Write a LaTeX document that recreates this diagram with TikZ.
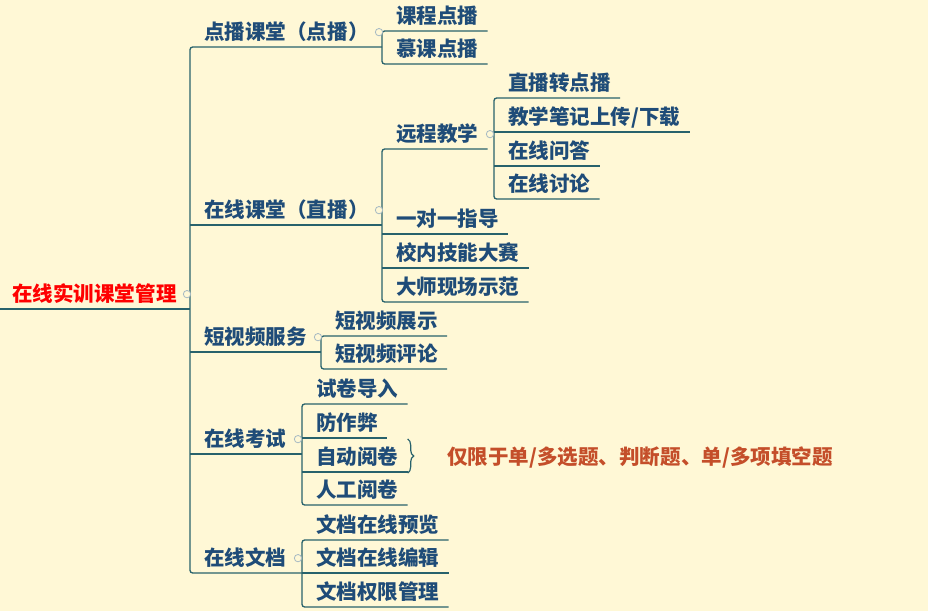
\documentclass[tikz,border=0pt]{standalone}
\usepackage{fontspec}
\newfontfamily\cjk{Noto Sans CJK SC}
\usetikzlibrary{positioning,calc}
\usetikzlibrary{decorations.pathreplacing}
\definecolor{paper}{RGB}{255,248,214}
\definecolor{topicblue}{RGB}{31,76,120}
\definecolor{branchteal}{RGB}{40,98,108}
\definecolor{foldgrey}{RGB}{165,185,195}
\definecolor{noteorange}{RGB}{196,78,42}
\tikzset{
        mapnode/.style={anchor=south west, inner xsep=6.75pt, inner ysep=5.7pt, text depth=0pt,
                font=\cjk\bfseries\fontsize{15.4}{18}\selectfont},
        % Root topic
        node_root/.style={mapnode, text=red},
        % Ordinary topics
        node_topic/.style={mapnode, text=topicblue},
        % Side note
        node_note/.style={mapnode, text=noteorange},
        % Branch lines
        line_branch/.style={draw=branchteal, line width=1pt, rounded corners=2},
        % Fold markers
        fold_mark/.style={circle, draw=foldgrey, fill=paper, line width=0.6pt, inner sep=0pt, minimum size=5.5pt}
}
\begin{document}
\begin{tikzpicture}[x=0.75pt, y=-0.75pt]
            \fill[paper] (0,0) rectangle (928,611);
            \useasboundingbox (0,0) rectangle (928,611);
            % junctions
            \coordinate (j0) at (190,0);
            \coordinate (j1) at (382,0);
            \coordinate (j2) at (494,0);
            \coordinate (j3) at (321,0);
            \coordinate (j4) at (302,0);
            \coordinate (left) at (0,309);

            \node[node_root] (root) at (3,309) {在线实训课堂管理};

            \node[node_topic] (vod)  at (195,47)  {点播课堂（点播）};
            \node[node_topic] (live) at (195,225) {在线课堂（直播）};
            \node[node_topic] (vid)  at (195,352) {短视频服务};
            \node[node_topic] (exam) at (195,454) {在线考试};
            \node[node_topic] (doc)  at (195,573) {在线文档};

            \node[node_topic] (vod1) at (387,31) {课程点播};
            \node[node_topic] (vod2) at (387,64) {慕课点播};

            \node[node_topic] (live1) at (387,149) {远程教学};
            \node[node_topic] (live2) at (387,234) {一对一指导};
            \node[node_topic] (live3) at (387,268) {校内技能大赛};
            \node[node_topic] (live4) at (387,302) {大师现场示范};

            \node[node_topic] (rem1) at (499,98)  {直播转点播};
            \node[node_topic] (rem2) at (499,132) {教学笔记上传/下载};
            \node[node_topic] (rem3) at (499,166) {在线问答};
            \node[node_topic] (rem4) at (499,199) {在线讨论};

            \node[node_topic] (vid1) at (326,336) {短视频展示};
            \node[node_topic] (vid2) at (326,369) {短视频评论};

            \node[node_topic] (exam1) at (307,404) {试卷导入};
            \node[node_topic] (exam2) at (307,438) {防作弊};
            \node[node_topic] (exam3) at (307,472) {自动阅卷};
            \node[node_topic] (exam4) at (307,505) {人工阅卷};

            \node[node_topic] (doc1) at (307,540) {文档在线预览};
            \node[node_topic] (doc2) at (307,573) {文档在线编辑};
            \node[node_topic] (doc3) at (307,607) {文档权限管理};

            \node[node_note] (note) at (438,472) {仅限于单/多选题、判断题、单/多项填空题};

            % root and trunk
            \draw[line_branch] (left) -- (root.south -| j0);
            \draw[line_branch] (vod.south -| j1) -- (vod.south -| j0) -- (doc.south -| j0) -- (doc.south -| j4);
            \draw[line_branch] (live.south -| j0) -- (live.south -| j1);
            \draw[line_branch] (vid.south -| j0) -- (vid.south -| j3);
            \draw[line_branch] (exam.south -| j0) -- (exam.south -| j4);

            % second level
            \draw[line_branch] (vod1.south east) -- (vod1.south -| j1) -- (vod2.south -| j1) -- (vod2.south east);
            \draw[line_branch] (live1.south east) -- (live1.south -| j1) -- (live4.south -| j1) -- (live4.south east);
            \foreach \n in {live2,live3}
                \draw[line_branch] (\n.south -| j1) -- (\n.south east);
            \draw[line_branch] (rem1.south east) -- (rem1.south -| j2) -- (rem4.south -| j2) -- (rem4.south east);
            \foreach \n in {rem2,rem3}
                \draw[line_branch] (\n.south -| j2) -- (\n.south east);
            \draw[line_branch] (vid1.south east) -- (vid1.south -| j3) -- (vid2.south -| j3) -- (vid2.south east);
            \draw[line_branch] (exam1.south east) -- (exam1.south -| j4) -- (exam4.south -| j4) -- (exam4.south east);
            \foreach \n in {exam2,exam3}
                \draw[line_branch] (\n.south -| j4) -- (\n.south east);
            \draw[line_branch] (doc1.south east) -- (doc1.south -| j4) -- (doc3.south -| j4) -- (doc3.south east);
            \draw[line_branch] (doc2.south -| j4) -- (doc2.south east);

            % brace to the note
            \draw[branchteal, line width=0.9pt, decorate, decoration={brace, amplitude=4.5pt}]
                (exam3.north east |- 0,439) -- (exam3.south east |- 0,473);

            % fold markers
            \node[fold_mark] at ($(root.base -| j0)+(-3,-7)$) {};
            \node[fold_mark] at ($(vod.base -| j1)+(-3,-7)$) {};
            \node[fold_mark] at ($(live.base -| j1)+(-3,-7)$) {};
            \node[fold_mark] at ($(live1.base -| j2)+(-4,-7)$) {};
            \node[fold_mark] at ($(vid.base -| j3)+(-3,-7)$) {};
            \node[fold_mark] at ($(exam.base -| j4)+(-4,-7)$) {};
            \node[fold_mark] at ($(doc.base -| j4)+(-4,-7)$) {};
\end{tikzpicture}
\end{document}
